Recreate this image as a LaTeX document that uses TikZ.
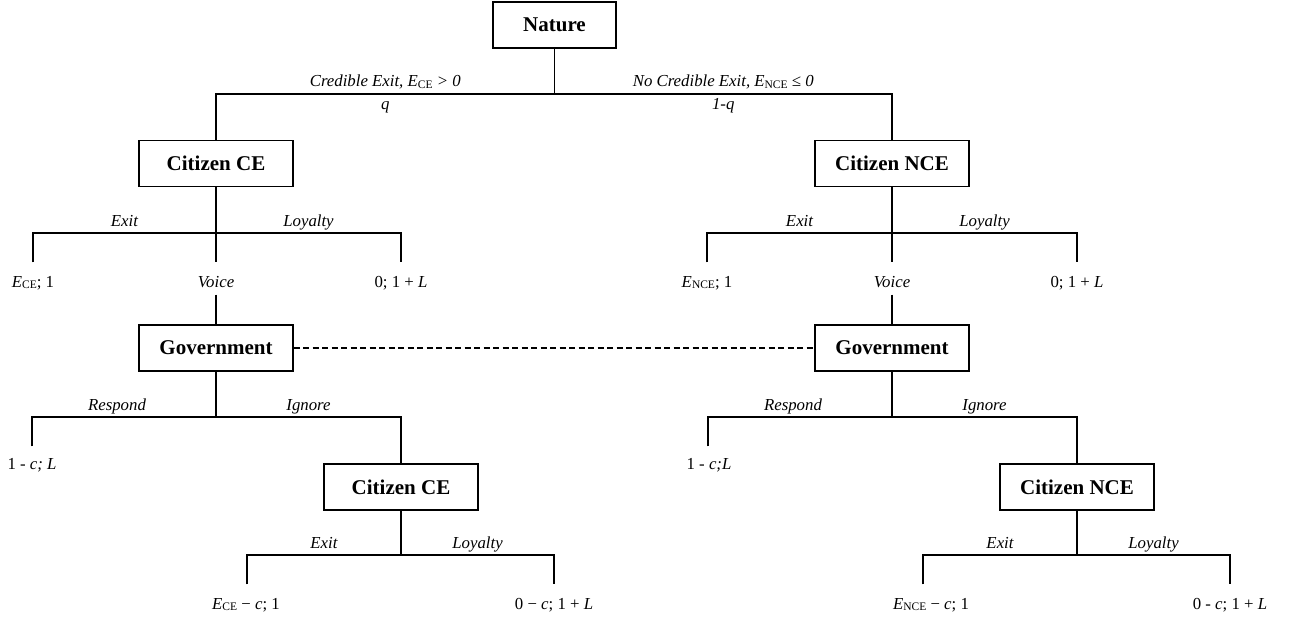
\documentclass[tikz,border=0pt]{standalone}
\usepackage{fontspec}
\setmainfont{Liberation Serif}
\newcommand\sbs[1]{\raisebox{-1.5pt}{\fontsize{11.5}{11.5}\selectfont\upshape #1}}
\begin{document}
\begin{tikzpicture}[x=1pt,y=-1pt,line width=1.35pt,
  box/.style={draw, rectangle, minimum width=154pt, minimum height=46pt, inner sep=0pt,
    font=\fontsize{21}{24}\selectfont\bfseries},
  leaf/.style={inner sep=0pt, text height=10.5pt, text depth=3pt, anchor=base,
    font=\fontsize{16.8}{19}\selectfont},
  up/.style={anchor=base, yshift=7pt, inner sep=0pt, font=\fontsize{16.8}{19}\selectfont\itshape},
  dn/.style={anchor=base, yshift=-16pt, inner sep=0pt, font=\fontsize{16.8}{19}\selectfont\itshape},
  info/.style={dash pattern=on 6pt off 3.5pt}]
\useasboundingbox (0,0) rectangle (1289,620);

% decision nodes
\node[box, minimum width=123pt] (nat) at (554.5,25) {Nature};
\node[box] (ce1) at (216,163.5) {Citizen CE};
\node[box] (nce1) at (892,163.5) {Citizen NCE};
\node[box] (gov1) at (216,348) {Government};
\node[box] (gov2) at (892,348) {Government};
\node[box] (ce2) at (401,487) {Citizen CE};
\node[box] (nce2) at (1077,487) {Citizen NCE};

% nature move
\coordinate (j0) at (554.5,94);
\draw (nat) -- (j0);
\draw (j0) -- node[up]{Credible Exit, \textit{E}\sbs{CE} > 0} node[dn]{q} (j0 -| ce1) -- (ce1);
\draw (j0) -- node[up]{No Credible Exit, \textit{E}\sbs{NCE} ≤ 0} node[dn]{1-q} (j0 -| nce1) -- (nce1);

% citizen CE
\node[leaf] (v1) at (216,287) {\textit{Voice}};
\node[leaf] (a1) at (33,287) {\textit{E}\sbs{CE}; 1};
\node[leaf] (b1) at (401,287) {0; 1 + \textit{L}};
\coordinate (j1) at (216,233);
\draw (ce1) -- ([yshift=13.5pt]v1.north);
\draw ([yshift=13.5pt]a1.north) |- node[up,pos=0.75]{Exit} (j1) -| node[up,pos=0.25]{Loyalty} ([yshift=13.5pt]b1.north);
\draw ([yshift=-4pt]v1.south) -- (gov1);

% citizen NCE
\node[leaf] (v2) at (892,287) {\textit{Voice}};
\node[leaf] (a2) at (707,287) {\textit{E}\sbs{NCE}; 1};
\node[leaf] (b2) at (1077,287) {0; 1 + \textit{L}};
\coordinate (j1b) at (892,233);
\draw (nce1) -- ([yshift=13.5pt]v2.north);
\draw ([yshift=13.5pt]a2.north) |- node[up,pos=0.75]{Exit} (j1b) -| node[up,pos=0.25]{Loyalty} ([yshift=13.5pt]b2.north);
\draw ([yshift=-4pt]v2.south) -- (gov2);

% information set
\draw[info] (gov1) -- (gov2);

% government left
\node[leaf] (r1) at (32,469) {1 - \textit{c; L}};
\coordinate (j2) at (216,417);
\draw (gov1) -- (j2);
\draw ([yshift=11.5pt]r1.north) |- node[up,pos=0.75,xshift=-7pt]{Respond} (j2) -| node[up,pos=0.25]{Ignore} (ce2);

% government right
\node[leaf] (r2) at (709,469) {1 - \textit{c;L}};
\coordinate (j2b) at (892,417);
\draw (gov2) -- (j2b);
\draw ([yshift=11.5pt,xshift=-1pt]r2.north) |- node[up,pos=0.75,xshift=-7pt]{Respond} (j2b) -| node[up,pos=0.25]{Ignore} (nce2);

% citizen CE after ignore
\node[leaf] (a3) at (246,609) {\textit{E}\sbs{CE} − \textit{c}; 1};
\node[leaf] (b3) at (554,609) {0 − \textit{c}; 1 + \textit{L}};
\coordinate (j3) at (401,555);
\draw (ce2) -- (j3);
\draw ([yshift=13.5pt,xshift=1pt]a3.north) |- node[up,pos=0.75]{Exit} (j3) -| node[up,pos=0.25]{Loyalty} ([yshift=13.5pt]b3.north);

% citizen NCE after ignore
\node[leaf] (a4) at (931,609) {\textit{E}\sbs{NCE} − \textit{c}; 1};
\node[leaf] (b4) at (1230,609) {0 - \textit{c}; 1 + \textit{L}};
\coordinate (j3b) at (1077,555);
\draw (nce2) -- (j3b);
\draw ([yshift=13.5pt,xshift=-8pt]a4.north) |- node[up,pos=0.75]{Exit} (j3b) -| node[up,pos=0.25]{Loyalty} ([yshift=13.5pt]b4.north);
\end{tikzpicture}
\end{document}
